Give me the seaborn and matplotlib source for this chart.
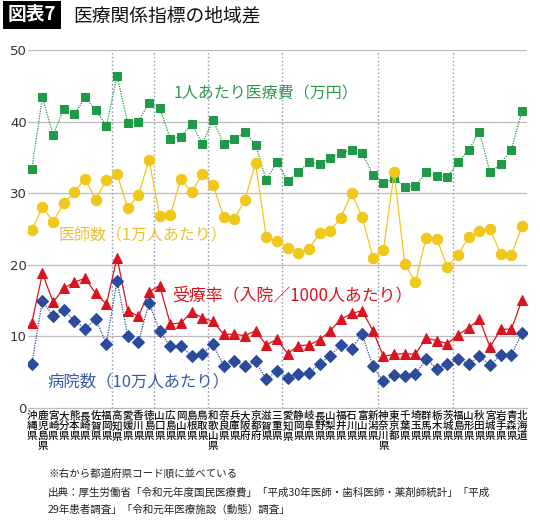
import seaborn as sns
import matplotlib.pyplot as plt
import pandas as pd
import numpy as np

prefectures = ['沖縄県', '鹿児島県', '宮崎県', '大分県', '熊本県', '長崎県', '佐賀県', '福岡県',
               '高知県', '愛媛県', '香川県', '徳島県',
               '山口県', '広島県', '岡山県', '島根県', '鳥取県',
               '和歌山県', '奈良県', '兵庫県', '大阪府', '京都府', '滋賀県', '三重県',
               '愛知県', '静岡県', '岐阜県', '長野県', '山梨県', '福井県', '石川県', '富山県', '新潟県',
               '神奈川県', '東京都', '千葉県', '埼玉県', '群馬県', '栃木県', '茨城県',
               '福島県', '山形県', '秋田県', '宮城県', '岩手県', '青森県', '北海道']

# 1人あたり医療費（万円）
medical_cost = [33.4, 43.4, 38.1, 41.8, 41.0, 43.4, 41.6, 39.4,
                46.4, 39.8, 40.0, 42.6,
                41.9, 37.6, 37.9, 39.7, 36.9,
                40.2, 36.9, 37.5, 38.6, 36.8, 31.8, 34.4,
                31.7, 32.9, 34.3, 34.1, 34.9, 35.6, 36.1, 35.6, 32.6,
                31.4, 32.1, 30.9, 31.0, 32.9, 32.4, 32.3,
                34.3, 36.1, 38.6, 32.9, 34.1, 36.1, 41.5]

# 医師数（1万人あたり）
doctors = [24.8, 28.1, 26.0, 28.6, 30.2, 32.0, 29.1, 31.9,
           32.7, 27.9, 29.7, 34.7,
           26.8, 27.0, 32.0, 30.1, 32.7,
           31.2, 26.7, 26.4, 29.1, 34.2, 23.9, 23.3,
           22.4, 21.7, 22.2, 24.4, 24.7, 26.6, 30.0, 26.7, 21.0,
           22.1, 32.9, 20.1, 17.6, 23.8, 23.6, 19.7,
           21.4, 23.9, 24.7, 25.0, 21.5, 21.4, 25.4]

# 受療率（入院／1000人あたり）
inpatient_rate = [11.9, 18.8, 14.8, 16.7, 17.6, 18.1, 16.0, 14.5,
                  21.0, 13.6, 12.8, 16.2,
                  17.1, 11.7, 11.9, 13.4, 12.6,
                  12.1, 10.3, 10.3, 10.1, 10.8, 8.8, 9.6,
                  7.6, 8.7, 8.8, 9.5, 10.8, 12.4, 13.2, 13.6, 10.8,
                  7.2, 7.5, 7.6, 7.5, 9.8, 9.4, 9.0,
                  10.2, 11.2, 12.4, 8.5, 11.0, 11.0, 15.1]

# 病院数（10万人あたり）
hospitals = [6.2, 15.0, 12.8, 13.7, 12.1, 11.1, 12.4, 9.0,
             17.8, 10.1, 9.2, 14.7,
             10.7, 8.6, 8.6, 7.3, 7.6,
             8.9, 5.9, 6.5, 5.9, 6.5, 4.0, 5.2,
             4.2, 4.8, 4.9, 6.1, 7.3, 8.8, 8.3, 10.3, 5.8,
             3.7, 4.6, 4.5, 4.7, 6.8, 5.5, 6.1,
             6.8, 6.2, 7.2, 6.0, 7.4, 7.4, 10.5]

# region boundaries (between groups)
region_breaks = [7.5, 11.5, 16.5, 23.5, 32.5, 39.5]

df = pd.DataFrame({
    'idx': np.arange(len(prefectures)),
    'cost': medical_cost,
    'doctors': doctors,
    'inpatient': inpatient_rate,
    'hospitals': hospitals,
})

sns.set_style('white')
plt.rcParams['font.family'] = ['Noto Sans CJK JP', 'DejaVu Sans']

GREEN = '#1e9a48'
YELLOW = '#f0c81a'
RED = '#d9141e'
BLUE = '#2b4c9b'

fig = plt.figure(figsize=(5.4, 5.24), dpi=100)
ax = fig.add_axes([0.052, 0.2214, 0.924, 0.6832])

for yv in [10, 20, 30, 40, 50]:
    ax.axhline(yv, color='#bcbcbc', lw=0.9, zorder=0)
for xb in region_breaks:
    ax.axvline(xb, color='#9c9cb4', lw=1.0, ls=(0, (1.2, 1.6)), zorder=0)

sns.lineplot(df, x='idx', y='cost', ax=ax, color=GREEN, lw=0.9, ls=(0, (1, 1)),
             marker='s', markersize=6, markeredgecolor=GREEN, zorder=3)
sns.lineplot(df, x='idx', y='doctors', ax=ax, color=YELLOW, lw=0.9,
             marker='o', markersize=7.5, markeredgecolor=YELLOW, zorder=3)
sns.lineplot(df, x='idx', y='inpatient', ax=ax, color=RED, lw=0.9,
             marker='^', markersize=7, markeredgecolor=RED, zorder=4)
sns.lineplot(df, x='idx', y='hospitals', ax=ax, color=BLUE, lw=0.9, ls=(0, (1, 1)),
             marker='D', markersize=6, markeredgecolor=BLUE, zorder=4)

ax.set_xlim(-0.35, 46.47)
ax.set_ylim(0, 50)
ax.set_yticks([0, 10, 20, 30, 40, 50])
ax.set_yticklabels(['0', '10', '20', '30', '40', '50'], fontsize=9.5, color='#333333',
                   family=['DejaVu Sans'])
ax.set_xticks(df['idx'])
ax.set_xticklabels(['\n'.join(p) for p in prefectures], fontsize=7.6, linespacing=1.02,
                   va='top', color='#111111', fontweight='medium')
ax.tick_params(axis='both', length=0, pad=2)
ax.tick_params(axis='y', pad=1)
ax.set_xlabel('')
ax.set_ylabel('')
for s in ['top', 'right', 'left']:
    ax.spines[s].set_visible(False)
ax.spines['bottom'].set_color('#bcbcbc')
ax.spines['bottom'].set_linewidth(0.9)

ax.text(13.3, 43.9, '1人あたり医療費（万円）', color='#2e9a50', fontsize=11.5, va='center')
ax.text(2.5, 24.0, '医師数（1万人あたり）', color='#e6c430', fontsize=11.5, va='center')
ax.text(13.2, 15.7, '受療率（入院／1000人あたり）', color=RED, fontsize=12.2, va='center')
ax.text(1.5, 3.6, '病院数（10万人あたり）', color='#3b5aa2', fontsize=11.8, va='center')

fig.text(0.0148, 0.972, '図表7', color='white', fontsize=13.5, fontweight='bold', va='center',
         bbox=dict(facecolor='black', edgecolor='none', pad=3.2))
fig.text(0.135, 0.969, '医療関係指標の地域差', color='#111111', fontsize=13.5, va='center')

fig.text(0.089, 0.097, '※右から都道府県コード順に並べている', fontsize=7.6, color='#222222', va='center')
fig.text(0.089, 0.060, '出典：厚生労働省「令和元年度国民医療費」「平成30年医師・歯科医師・薬剤師統計」「平成',
         fontsize=7.6, color='#222222', va='center')
fig.text(0.089, 0.027, '29年患者調査」「令和元年医療施設（動態）調査」', fontsize=7.6, color='#222222',
         va='center')

fig.savefig('out.png', dpi=100)
